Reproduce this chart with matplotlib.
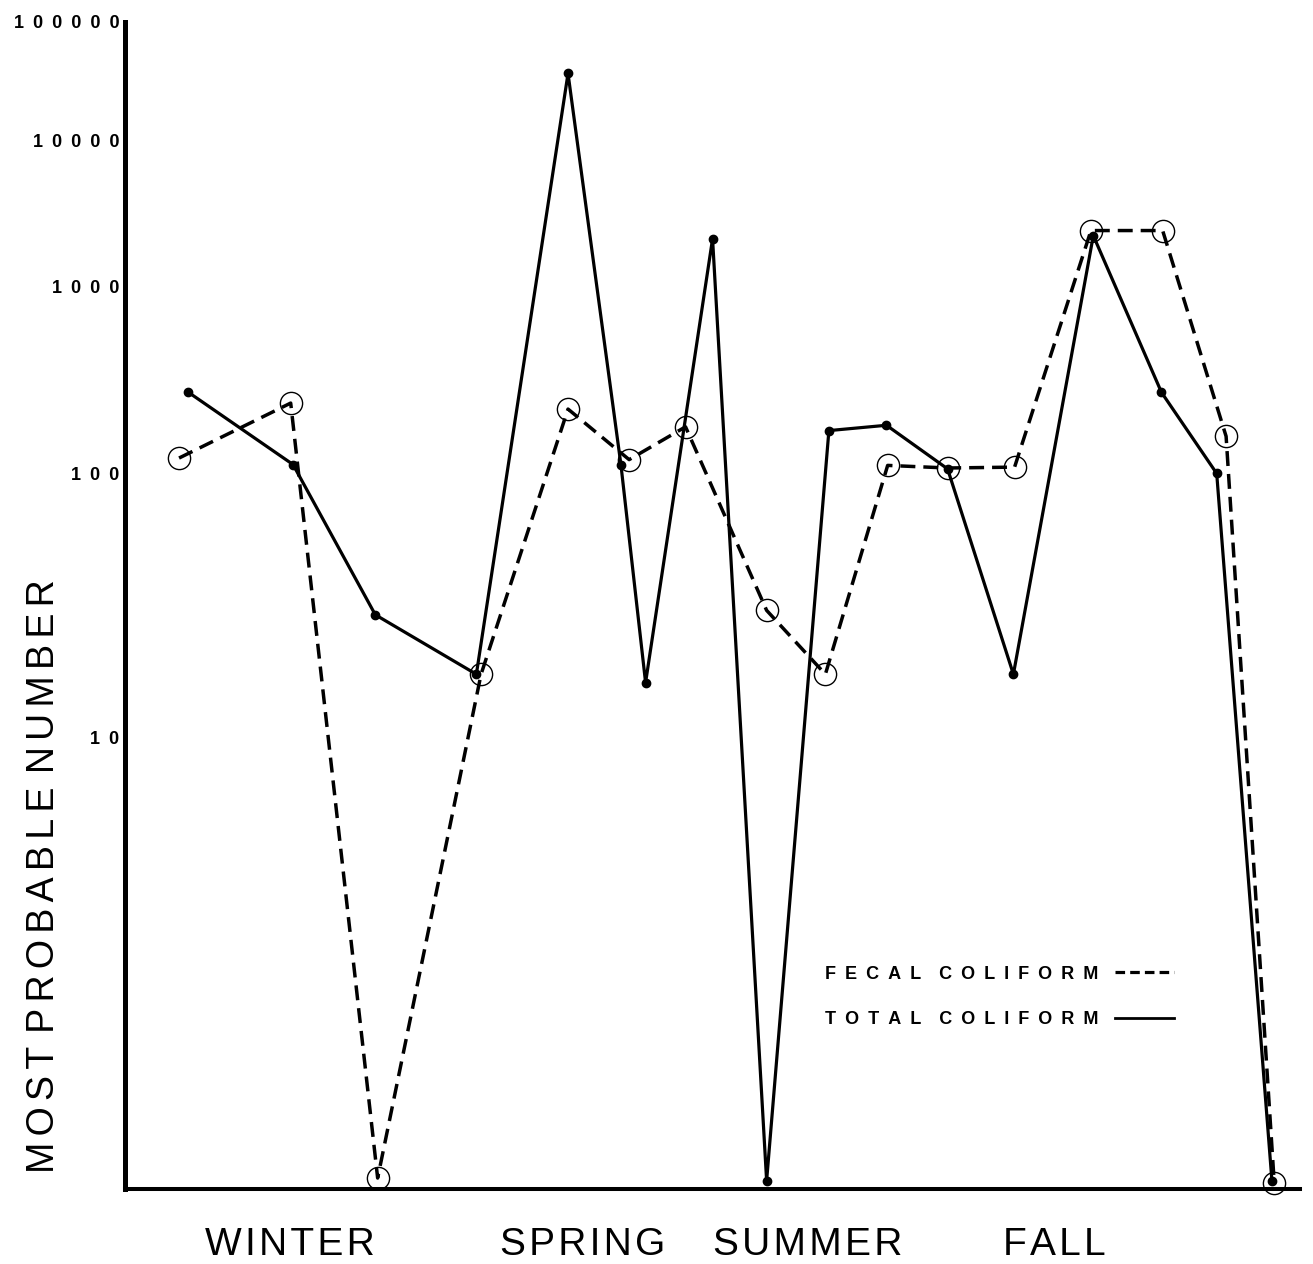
import numpy as np
import matplotlib
matplotlib.use('Agg')
import matplotlib.pyplot as plt
from matplotlib.lines import Line2D
from matplotlib.ticker import FixedLocator, NullLocator

# sample positions along the year (0-100) and MPN values
total_x = [5.4, 14.3, 21.3, 29.9, 37.7, 42.2, 44.3, 50.0, 54.6, 59.9, 64.8, 70.0, 75.6, 82.4, 88.2, 92.9, 97.6]
total_mpn = [250, 110, 26, 16, 35000, 110, 15, 2000, 1.03, 160, 170, 105, 16, 2100, 250, 100, 1.03]

fecal_x = [4.6, 14.1, 21.5, 30.3, 37.7, 42.9, 47.7, 54.6, 59.6, 64.9, 70.0, 75.7, 82.2, 88.3, 93.7, 97.8]
fecal_mpn = [118, 220, 1.04, 16, 205, 116, 167, 27, 16, 109, 106, 107, 2270, 2270, 150, 1.02]

seasons = ['WINTER', 'SPRING', 'SUMMER', 'FALL']
season_x = [14.0, 38.9, 58.1, 79.1]

y_ticks = [10, 100, 1000, 10000, 100000]
y_labels = ['10', '100', '1000', '10000', '100000']


def spaced(s, sp='\u2002', wsp='\u2003'):
    # the old typewriter lettering has wide tracking
    return wsp.join(sp.join(w) for w in s.split(' '))


# the original paper uses a log-of-log axis: height ~ ln(log10(N) + 1)
def fwd(v):
    v = np.clip(np.asarray(v, dtype=float), 1e-12, None)
    return np.log(np.clip(np.log10(v) + 1, 1e-9, None))


def inv(t):
    return 10 ** (np.exp(np.asarray(t, dtype=float)) - 1)


fam = ['Liberation Sans', 'DejaVu Sans']
plt.rcParams['font.family'] = fam

fig = plt.figure(figsize=(13.13, 12.64), dpi=100)
ax = fig.add_axes([0.0952, 0.0593, 0.895, 0.9233])

ax.plot(fecal_x, fecal_mpn, color='black', lw=2.5, dashes=(4.3, 2.3),
        marker='o', ms=16, mfc='none', mec='black', mew=1.0, clip_on=False, zorder=3)
ax.plot(total_x, total_mpn, color='black', lw=2.3, marker='o', ms=6,
        mfc='black', mec='black', clip_on=False, zorder=4)

ax.set_yscale('function', functions=(fwd, inv))
ax.set_ylim(1, 100000)
ax.set_xlim(0, 100)
ax.yaxis.set_major_locator(FixedLocator(y_ticks))
ax.yaxis.set_minor_locator(NullLocator())
ax.set_yticklabels([spaced(l) for l in y_labels], fontsize=13, fontweight='bold')
ax.tick_params(axis='y', length=0, pad=4)

ax.set_xticks(season_x)
ax.set_xticklabels([spaced(s, '\u200a', ' ') for s in seasons], fontsize=28)
ax.tick_params(axis='x', length=0, pad=27)

ax.spines['top'].set_visible(False)
ax.spines['right'].set_visible(False)
ax.spines['left'].set_linewidth(3.6)
ax.spines['bottom'].set_linewidth(2.9)

ax.set_ylabel(spaced('MOST PROBABLE NUMBER', '\u200a\u200a', ' \u200a'), fontsize=27, va='center')
ax.yaxis.set_label_coords(-0.069, 0.268)

handles = [Line2D([], [], color='black', lw=2.3, dashes=(3.0, 1.6)),
           Line2D([], [], color='black', lw=2.0)]
leg = ax.legend(handles, [spaced('FECAL COLIFORM'), spaced('TOTAL COLIFORM')],
                loc='center left', bbox_to_anchor=(825 / 1313, 1 - 997 / 1264),
                bbox_transform=fig.transFigure, frameon=False, markerfirst=False,
                handlelength=3.3, handletextpad=0.9, labelspacing=1.6, borderpad=0,
                borderaxespad=0, prop={'size': 13, 'weight': 'bold', 'family': fam})

fig.savefig('out.png', dpi=100)
